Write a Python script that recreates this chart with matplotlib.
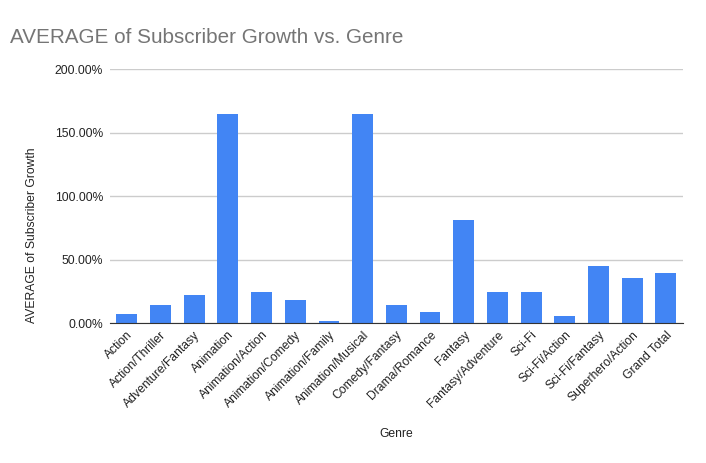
import matplotlib
matplotlib.use('Agg')
import matplotlib.pyplot as plt
from matplotlib.ticker import FuncFormatter

plt.rcParams['font.family'] = ['Liberation Sans', 'DejaVu Sans']

# datos
generos = ['Action', 'Action/Thriller', 'Adventure/Fantasy', 'Animation',
           'Animation/Action', 'Animation/Comedy', 'Animation/Family',
           'Animation/Musical', 'Comedy/Fantasy', 'Drama/Romance', 'Fantasy',
           'Fantasy/Adventure', 'Sci-Fi', 'Sci-Fi/Action', 'Sci-Fi/Fantasy',
           'Superhero/Action', 'Grand Total']
crecimiento = [7.3, 14.4, 22.3, 164.8, 24.7, 18.4, 1.8, 164.8, 14.4, 8.9,
               81.4, 24.7, 24.7, 5.8, 45.1, 35.7, 39.6]

fig = plt.figure(figsize=(7.06, 4.63), dpi=100)
ax = fig.add_axes([0.1558, 0.3017, 0.967 - 0.1558, 0.8503 - 0.3017])

x = range(len(generos))
ax.bar(x, crecimiento, width=0.62, color='#4285f4', zorder=3)

ax.set_ylim(0, 200)
ax.set_xlim(-0.5, len(generos) - 0.5)
ax.set_yticks([0, 50, 100, 150, 200])
ax.yaxis.set_major_formatter(FuncFormatter(lambda v, p: f'{v:.2f}%'))
ax.grid(axis='y', color='#cccccc', linewidth=1, zorder=0)

ax.set_xticks(list(x))
ax.set_xticklabels(generos, rotation=45, ha='right', rotation_mode='anchor',
                   fontsize=8.7, color='#222222')
ax.tick_params(axis='y', labelsize=8.7, labelcolor='#222222', length=0, pad=5)
ax.tick_params(axis='x', length=0, pad=4)

for s in ['top', 'right', 'left']:
    ax.spines[s].set_visible(False)
ax.spines['bottom'].set_color('#333333')
ax.spines['bottom'].set_zorder(4)

ax.set_xlabel('Genre', fontsize=8.7, color='#222222', labelpad=13)
ax.set_ylabel('AVERAGE of Subscriber Growth', fontsize=8.7, color='#222222')
ax.yaxis.set_label_coords(-0.126, 0.346)

fig.text(0.0142, 0.92, 'AVERAGE of Subscriber Growth vs. Genre', fontsize=14.9,
         color='#757575', va='center')

fig.savefig('out.png', dpi=100)
